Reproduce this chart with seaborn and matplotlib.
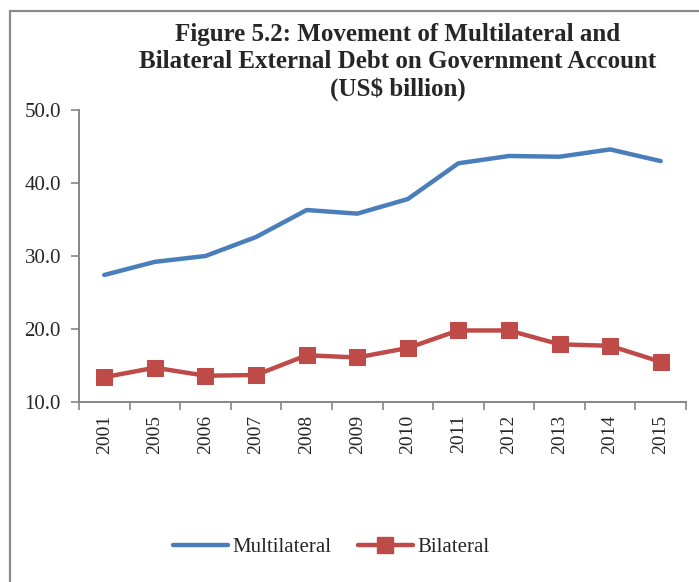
import matplotlib
matplotlib.use("Agg")
import matplotlib.pyplot as plt
from matplotlib.patches import Rectangle
from matplotlib.lines import Line2D
from matplotlib.ticker import FixedLocator, FormatStrFormatter
import seaborn as sns
import pandas as pd

years = ["2001", "2005", "2006", "2007", "2008", "2009",
         "2010", "2011", "2012", "2013", "2014", "2015"]
multilateral = [27.4, 29.2, 30.0, 32.6, 36.3, 35.8, 37.8, 42.7, 43.7, 43.6, 44.6, 43.0]
bilateral = [13.4, 14.7, 13.6, 13.7, 16.4, 16.1, 17.4, 19.8, 19.8, 17.9, 17.7, 15.5]
y_ticks = [10.0, 20.0, 30.0, 40.0, 50.0]

sns.set_style("white")
plt.rcParams["font.family"] = ["Liberation Serif", "DejaVu Serif"]

df = pd.DataFrame({"Year": years, "Multilateral": multilateral,
                   "Bilateral": bilateral})

fig = plt.figure(figsize=(6.99, 5.82), dpi=100)
ax = fig.add_axes([79 / 699, 180 / 582, 607 / 699, 292 / 582])

# chart frame (gray border around the whole chart area)
fig.patches.append(Rectangle((10 / 699, -0.1), 1.2, 1 - 11 / 582 + 0.1,
                             transform=fig.transFigure, fill=False,
                             edgecolor="#8c8c8c", linewidth=1.6))

blue = "#4A7EBB"
red = "#BE4B48"
sns.lineplot(data=df, x="Year", y="Multilateral", color=blue,
             linewidth=3.2, sort=False, ax=ax)
sns.lineplot(data=df, x="Year", y="Bilateral", color=red,
             linewidth=3.2, marker="s", markersize=11.5,
             markeredgecolor=red, sort=False, ax=ax)

ax.set_xlim(-0.5, len(years) - 0.5)
ax.set_ylim(10, 50)
ax.set_xlabel("")
ax.set_ylabel("")

# category labels centred, tick marks on the category boundaries
ax.set_xticks(range(len(years)))
ax.set_xticklabels(years, rotation=90, fontsize=14)
ax.tick_params(axis="x", which="major", length=0, pad=9)
ax.xaxis.set_minor_locator(FixedLocator([i - 0.5 for i in range(len(years) + 1)]))
ax.tick_params(axis="x", which="minor", length=6, width=1.2, color="#868686",
               direction="out", bottom=True)

ax.set_yticks(y_ticks)
ax.yaxis.set_major_formatter(FormatStrFormatter("%.1f"))
ax.tick_params(axis="y", which="major", length=6, width=1.2, color="#868686",
               direction="out", labelsize=15, pad=7, left=True)

for side in ["top", "right"]:
    ax.spines[side].set_visible(False)
for side in ["left", "bottom"]:
    ax.spines[side].set_color("#868686")
    ax.spines[side].set_linewidth(1.4)
ax.grid(False)

fig.text(398 / 699, 1 - 62 / 582,
         "Figure 5.2: Movement of Multilateral and\n"
         "Bilateral External Debt on Government Account\n"
         "(US$ billion)",
         ha="center", va="center", fontsize=18, fontweight="bold",
         linespacing=1.24)

handles = [
    Line2D([], [], color=blue, linewidth=3.2),
    Line2D([], [], color=red, linewidth=3.2, marker="s", markersize=11.5),
]
fig.legend(handles, ["Multilateral", "Bilateral"], loc="center",
           bbox_to_anchor=(331 / 699, 1 - 547 / 582), ncol=2, frameon=False,
           fontsize=15, handlelength=2.64, handletextpad=0.2,
           columnspacing=1.3)

fig.savefig("out.png", dpi=100)
